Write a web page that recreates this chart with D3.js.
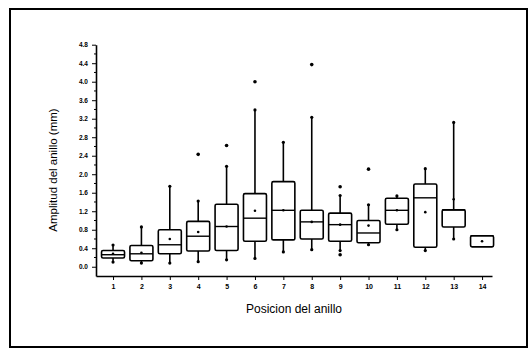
<!DOCTYPE html>
<html>
<head>
<meta charset="utf-8">
<script src="https://cdn.jsdelivr.net/npm/d3@7"></script>
<style>
  body { margin: 0; background: #fff; }
  svg { display: block; font-family: "Liberation Sans", Arial, sans-serif; }
</style>
</head>
<body>
<svg id="chart" width="528" height="350"></svg>
<script>
// ring positions and box statistics (mm)
const positions = [1, 2, 3, 4, 5, 6, 7, 8, 9, 10, 11, 12, 13, 14];
const whiskerLow = [0.10, 0.08, 0.08, 0.11, 0.15, 0.18, 0.32, 0.37, 0.35, 0.475, 0.80, 0.35, 0.60, 0.43];
const q1 = [0.19, 0.13, 0.28, 0.34, 0.35, 0.55, 0.58, 0.60, 0.55, 0.52, 0.92, 0.42, 0.86, 0.43];
const medians = [0.26, 0.28, 0.475, 0.66, 0.87, 1.05, 1.22, 0.97, 0.91, 0.73, 1.22, 1.49, 1.23, 0.67];
const q3 = [0.35, 0.46, 0.80, 0.98, 1.35, 1.58, 1.84, 1.22, 1.16, 1.00, 1.48, 1.79, 1.23, 0.67];
const whiskerHigh = [0.47, 0.86, 1.74, 1.42, 2.17, 3.39, 2.69, 3.23, 1.54, 1.34, 1.53, 2.12, 3.12, 0.67];
const means = [0.28, 0.30, 0.60, 0.75, 0.87, 1.21, 1.22, 0.97, 0.91, 0.89, 1.22, 1.18, 1.46, 0.55];
const outliers = [[], [], [], [2.43], [2.62], [4.0], [], [4.37], [1.73, 0.26], [2.11], [], [], [], []];
const yTicks = [0, 0.4, 0.8, 1.2, 1.6, 2.0, 2.4, 2.8, 3.2, 3.6, 4.0, 4.4, 4.8];

const data = positions.map((p, i) => ({
  pos: p,
  lo: whiskerLow[i],
  q1: q1[i],
  med: medians[i],
  q3: q3[i],
  hi: whiskerHigh[i],
  mean: means[i],
  out: outliers[i]
}));

const svg = d3.select("#chart");

// outer frame
svg.append("rect")
  .attr("x", 10).attr("y", 9)
  .attr("width", 517).attr("height", 338)
  .attr("fill", "none")
  .attr("stroke", "#000")
  .attr("stroke-width", 2);

const x = d3.scaleLinear().domain([0.4, 14.35]).range([96, 492]);
const y = d3.scaleLinear().domain([-0.2, 4.8]).range([276, 44.7]);
const boxW = 23;

// axes
const yAxis = svg.append("g")
  .attr("transform", "translate(96,0)")
  .call(d3.axisLeft(y).tickValues(yTicks).tickFormat(d3.format(".1f")).tickSize(4).tickSizeOuter(0));
yAxis.selectAll(".tick text").attr("font-size", 6.5).attr("font-weight", "bold").attr("dx", -1);

// minor y ticks
svg.append("g")
  .selectAll("line")
  .data(d3.range(0.2, 4.8, 0.4))
  .join("line")
  .attr("x1", 94).attr("x2", 96)
  .attr("y1", d => y(d)).attr("y2", d => y(d))
  .attr("stroke", "#000");

const xAxis = svg.append("g")
  .attr("transform", "translate(0,276)")
  .call(d3.axisBottom(x).tickValues(positions).tickFormat(d3.format("d")).tickSize(4).tickSizeOuter(0));
xAxis.selectAll(".tick text").attr("font-size", 7).attr("font-weight", "bold").attr("dy", "0.9em");

svg.selectAll(".domain").attr("stroke-width", 1.6);

// axis titles
svg.append("text")
  .attr("x", 294).attr("y", 313)
  .attr("text-anchor", "middle")
  .attr("font-size", 12)
  .text("Posicion del anillo");

svg.append("text")
  .attr("transform", "translate(57,170) rotate(-90)")
  .attr("text-anchor", "middle")
  .attr("font-size", 11.5)
  .text("Amplitud del anillo (mm)");

// boxes
const g = svg.append("g").selectAll("g")
  .data(data)
  .join("g")
  .attr("transform", d => `translate(${x(d.pos)},0)`);

g.append("line")
  .attr("y1", d => y(d.q3)).attr("y2", d => y(d.hi))
  .attr("stroke", "#000").attr("stroke-width", 1.6);
g.append("line")
  .attr("y1", d => y(d.q1)).attr("y2", d => y(d.lo))
  .attr("stroke", "#000").attr("stroke-width", 1.6);

g.filter(d => d.hi > d.q3).append("circle")
  .attr("cy", d => y(d.hi)).attr("r", 1.6);
g.filter(d => d.lo < d.q1).append("circle")
  .attr("cy", d => y(d.lo)).attr("r", 1.6);

g.append("rect")
  .attr("x", -boxW / 2)
  .attr("y", d => y(d.q3))
  .attr("width", boxW)
  .attr("height", d => Math.max(y(d.q1) - y(d.q3), 1))
  .attr("rx", 1.5)
  .attr("fill", "#fff")
  .attr("stroke", "#000")
  .attr("stroke-width", 1.6);

g.append("line")
  .attr("x1", -boxW / 2).attr("x2", boxW / 2)
  .attr("y1", d => y(d.med)).attr("y2", d => y(d.med))
  .attr("stroke", "#000").attr("stroke-width", 1.4);

g.append("circle")
  .attr("cy", d => y(d.mean)).attr("r", 1.3);

g.selectAll(".out")
  .data(d => d.out)
  .join("circle")
  .attr("class", "out")
  .attr("cy", d => y(d)).attr("r", 1.8);
</script>
</body>
</html>
